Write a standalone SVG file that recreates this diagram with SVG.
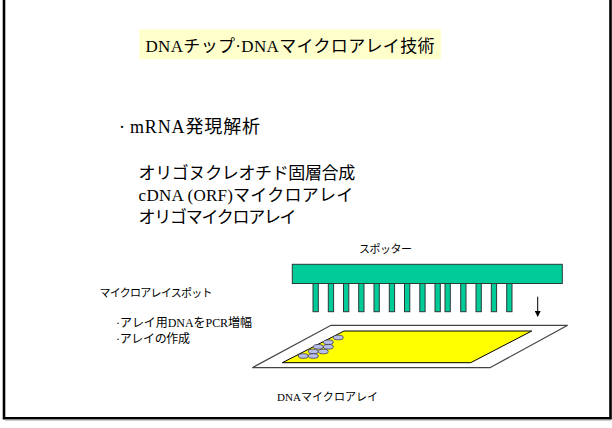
<svg xmlns="http://www.w3.org/2000/svg" width="612" height="428" viewBox="0 0 612 428">
  <style>
    .jp { font-family: "Liberation Serif", "Noto Sans CJK JP", serif; fill: #000; }
    .big { font-size: 17px; }
    .small { font-size: 11px; }
    .mid { font-size: 12px; }
    .pin { fill: #00cc99; stroke: #2a3a35; stroke-width: 1; }
    .spot { fill: #b9bdea; stroke: #3a3a55; stroke-width: 0.8; }
  </style>
  <defs>
    <marker id="arrowhead" markerWidth="6" markerHeight="6" refX="5" refY="3" orient="auto" markerUnits="userSpaceOnUse">
      <path d="M0,0 L6,3 L0,6 Z" fill="#000"/>
    </marker>
  </defs>

  <!-- page -->
  <rect x="0" y="0" width="612" height="428" fill="#fff"/>
  <path d="M4,0 V418.2 H610.5 V0" fill="none" stroke="#000" stroke-width="2.6"/>
  <line x1="5" y1="420" x2="611" y2="420" stroke="#999" stroke-width="1"/>

  <!-- title -->
  <g id="title">
    <rect x="139.3" y="29.3" width="301.7" height="30" fill="#ffffcc"/>
    <text class="jp big" x="145.5" y="51.7" textLength="289">DNAチップ·DNAマイクロアレイ技術</text>
  </g>

  <!-- bullet list -->
  <g id="topics">
    <text class="jp" font-size="18" y="133"><tspan x="119">·</tspan><tspan x="130" textLength="130">mRNA発現解析</tspan></text>
    <text class="jp big" x="138.6" y="178.5" textLength="216.6">オリゴヌクレオチド固層合成</text>
    <text class="jp big" x="138.6" y="200.5" textLength="214.6">cDNA (ORF)マイクロアレイ</text>
    <text class="jp big" x="138.6" y="222.5" textLength="158">オリゴマイクロアレイ</text>
  </g>

  <!-- spotter head with pins -->
  <g id="spotter">
    <text class="jp small" x="359" y="252.5" textLength="53">スポッター</text>
    <rect class="pin" x="292.3" y="264.3" width="270" height="19.2"/>
    <g>
      <rect class="pin" x="313" y="283.5" width="5.3" height="28.2"/>
      <rect class="pin" x="328.3" y="283.5" width="5.3" height="28.2"/>
      <rect class="pin" x="343.5" y="283.5" width="5.3" height="28.2"/>
      <rect class="pin" x="358.7" y="283.5" width="5.3" height="28.2"/>
      <rect class="pin" x="374" y="283.5" width="5.3" height="28.2"/>
      <rect class="pin" x="389.3" y="283.5" width="5.3" height="28.2"/>
      <rect class="pin" x="404.5" y="283.5" width="5.3" height="28.2"/>
      <rect class="pin" x="419.8" y="283.5" width="5.3" height="28.2"/>
      <rect class="pin" x="435" y="283.5" width="5.3" height="28.2"/>
      <rect class="pin" x="445" y="283.5" width="5.3" height="28.2"/>
      <rect class="pin" x="460.7" y="283.5" width="5.3" height="28.2"/>
      <rect class="pin" x="476" y="283.5" width="5.3" height="28.2"/>
      <rect class="pin" x="491.3" y="283.5" width="5.3" height="28.2"/>
      <rect class="pin" x="506.7" y="283.5" width="5.3" height="28.2"/>
    </g>
  </g>

  <!-- spotting steps -->
  <g id="spot-steps">
    <text class="jp small" x="99.5" y="297" textLength="113">マイクロアレイスポット</text>
    <text class="jp mid" x="116" y="327" textLength="136">·アレイ用DNAをPCR増幅</text>
    <text class="jp mid" x="116" y="343" textLength="74">·アレイの作成</text>
  </g>

  <!-- slide with printed spots -->
  <g id="microarray">
    <polygon points="331,325.3 567.7,325.3 490,367.7 252.3,367.7" fill="#fff" stroke="#444" stroke-width="1.3"/>
    <polygon points="344,331 531.7,331 470.7,362.7 282.3,362.7" fill="#ffff00" stroke="#000" stroke-width="1"/>
    <ellipse class="spot" cx="338.3" cy="337.5" rx="5" ry="2.3"/>
    <ellipse class="spot" cx="328.3" cy="342.2" rx="5" ry="2.3"/>
    <ellipse class="spot" cx="318.3" cy="346.8" rx="5" ry="2.3"/>
    <ellipse class="spot" cx="328.3" cy="346.8" rx="5" ry="2.3"/>
    <ellipse class="spot" cx="313.3" cy="351.5" rx="5" ry="2.3"/>
    <ellipse class="spot" cx="323.3" cy="351.5" rx="5" ry="2.3"/>
    <ellipse class="spot" cx="303.3" cy="356" rx="5" ry="2.3"/>
    <ellipse class="spot" cx="313.3" cy="356" rx="5" ry="2.3"/>
    <text class="jp small" x="277" y="401" textLength="101">DNAマイクロアレイ</text>
  </g>

  <!-- connectors -->
  <g id="connectors">
    <line x1="537.7" y1="296.7" x2="537.7" y2="316" stroke="#000" stroke-width="1" marker-end="url(#arrowhead)"/>
  </g>
</svg>
